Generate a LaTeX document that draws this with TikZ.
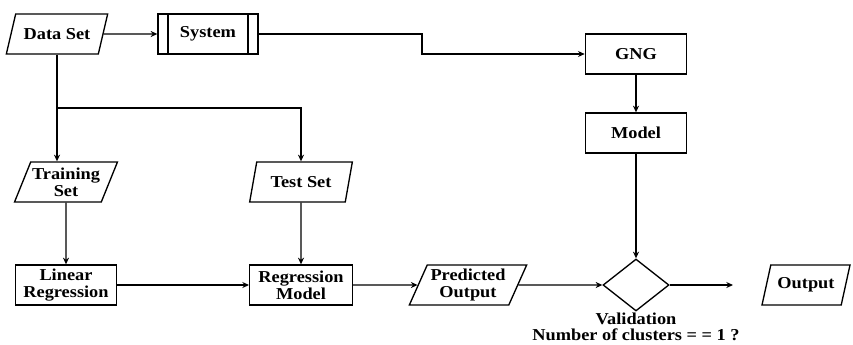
\documentclass[tikz,border=0pt]{standalone}
\usepackage{fontspec}
\setmainfont[FakeStretch=1.1]{Liberation Serif}
\usetikzlibrary{arrows.meta,positioning,shapes.geometric}

\begin{document}
\begin{tikzpicture}[x=0.75pt, y=-0.75pt, line width=1pt,
  every node/.style={font=\fontsize{12.5}{13}\selectfont\bfseries, align=center},
  >={Stealth[length=5pt,width=4.5pt]},
  proc/.style={draw, rectangle, minimum width=76pt, minimum height=30pt, inner sep=1pt},
  predef/.style={proc, path picture={
      \draw ([xshift=7.5pt]path picture bounding box.north west) -- ([xshift=7.5pt]path picture bounding box.south west);
      \draw ([xshift=-7.5pt]path picture bounding box.north east) -- ([xshift=-7.5pt]path picture bounding box.south east);}},
  io/.style={draw, trapezium, trapezium left angle=63, trapezium right angle=117,
      trapezium stretches body, minimum height=30pt, inner sep=1pt},
  decide/.style={draw, diamond, minimum width=49.5pt, minimum height=39pt, inner sep=0pt}]
  \useasboundingbox (0,0) rectangle (853,344);

  \node[io, minimum width=76pt, trapezium left angle=56, trapezium right angle=124] (data) at (57,34) {Data Set};
  \node[predef, minimum width=75pt] (sys) at (208,34) {System};
  \node[proc] (gng) at (636,54) {GNG};
  \node[proc] (model) at (636,133) {Model};
  \node[io, minimum width=76pt] (train) at (66,182) {Training\\Set};
  \node[io, minimum width=77pt] (test) at (301,182) {Test Set};
  \node[proc] (linreg) at (66,285) {Linear\\Regression};
  \node[proc, minimum width=77pt] (regmod) at (301,285) {Regression\\Model};
  \node[io, minimum width=88pt] (pred) at (468,285) {Predicted\\Output};
  \node[decide] (valid) at (636,285) {};
  \node[below=0pt of valid.south, inner sep=0.5pt, font=\fontsize{12.5}{12}\selectfont\bfseries] (validtxt) {Validation\\Number of clusters = = 1 ?};
  \node[io, minimum width=66pt] (out) at (806,285) {Output};
  \coordinate (jog) at (422,44);
  \coordinate (fork) at (57,108);
  \coordinate (done) at (733,285);

  \draw[->] (data) -- (sys);
  \draw[->] (sys.east) -| (jog) |- (gng.west);
  \draw[->] (gng) -- (model);
  \draw[->] (data.south) -- (data.south |- train.north);
  \draw[->] (fork) -| (test.north);
  \draw[->] (train) -- (linreg);
  \draw[->] (test) -- (regmod);
  \draw[->] (linreg) -- (regmod);
  \draw[->] (regmod) -- (pred);
  \draw[->] (pred) -- (valid);
  \draw[->] (model) -- (valid);
  \draw[->] (valid) -- (done);
\end{tikzpicture}
\end{document}
